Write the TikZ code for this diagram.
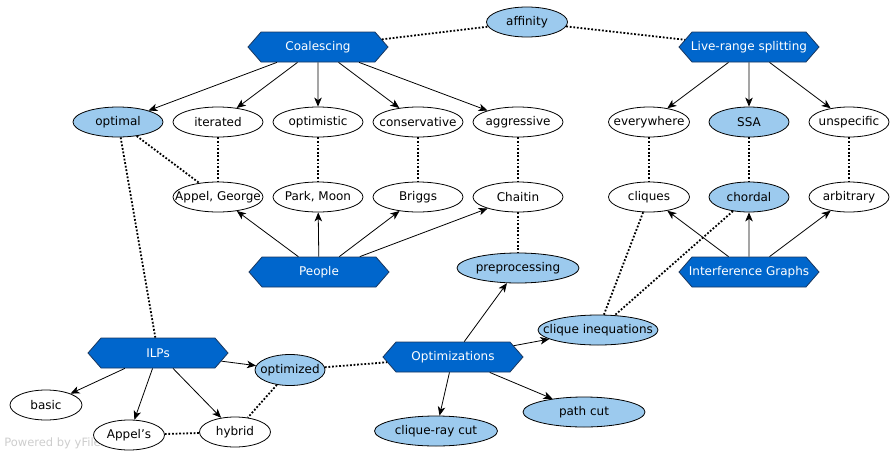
\documentclass[tikz,border=0pt]{standalone}
\usepackage{fontspec}
\setmainfont{DejaVu Sans}
\usetikzlibrary{shapes.geometric, shapes.symbols, arrows.meta}

\definecolor{hexblue}{RGB}{0,102,204}
\definecolor{hexline}{RGB}{25,55,95}
\definecolor{paleblue}{RGB}{156,202,238}
\definecolor{markgray}{RGB}{205,205,205}

\begin{document}
\begin{tikzpicture}[x=1pt, y=-1pt, line width=0.8pt,
    topic/.style={shape=signal, signal to=west and east, signal pointer angle=98,
        draw=hexline, fill=hexblue, text=white, minimum width=140, minimum height=30,
        inner xsep=-40pt, inner ysep=0pt, font=\fontsize{12}{14}\selectfont},
    leaf/.style={ellipse, draw, fill=white, minimum width=90, minimum height=30,
        inner xsep=-70pt, inner ysep=0pt, font=\fontsize{12}{14}\selectfont},
    hot/.style={leaf, fill=paleblue},
    arr/.style={-{Stealth[length=9pt, width=7.5pt, inset=2.5pt]}},
    link/.style={line width=1.8pt, dash pattern=on 1.8pt off 1.8pt}]
    \useasboundingbox (0,0) rectangle (891,450);

    \node[anchor=base west, inner sep=0pt, text=markgray, font=\fontsize{11.5}{13}\selectfont]
        (credit) at (4,446) {Powered by yFiles};

    \node[topic] (coal) at (318,47) {Coalescing};
    \node[topic] (split) at (749,47) {Live-range splitting};
    \node[topic] (people) at (319,272) {People};
    \node[topic] (igraph) at (749,272) {Interference Graphs};
    \node[topic] (ilp) at (158,353) {ILPs};
    \node[topic] (opts) at (453,357) {Optimizations};

    \node[hot, minimum width=81] (affinity) at (527,22) {affinity};

    \node[hot] (optimal) at (118,122) {optimal};
    \node[leaf] (iterated) at (218,122) {iterated};
    \node[leaf] (optimistic) at (318,122) {optimistic};
    \node[leaf] (conservative) at (418,122) {conservative};
    \node[leaf] (aggressive) at (518,122) {aggressive};
    \node[leaf, minimum width=81] (everywhere) at (649,122) {everywhere};
    \node[hot, minimum width=80] (ssa) at (749,122) {SSA};
    \node[leaf, minimum width=80] (unspecific) at (849,122) {unspecific};

    \node[leaf] (appelgeorge) at (218,197) {Appel, George};
    \node[leaf] (parkmoon) at (318,197) {Park, Moon};
    \node[leaf] (briggs) at (418,197) {Briggs};
    \node[leaf] (chaitin) at (518,197) {Chaitin};
    \node[leaf, minimum width=81] (cliques) at (649,197) {cliques};
    \node[hot, minimum width=80] (chordal) at (749,197) {chordal};
    \node[leaf, minimum width=80] (arbitrary) at (849,197) {arbitrary};

    \node[hot, minimum width=122] (preproc) at (518,268) {preprocessing};
    \node[hot, minimum width=120] (cliqueineq) at (598,330) {clique inequations};
    \node[hot, minimum width=122] (pathcut) at (584,412) {path cut};
    \node[hot, minimum width=123] (raycut) at (436,431) {clique-ray cut};
    \node[hot, minimum width=70, minimum height=31] (optimized) at (290,370) {optimized};
    \node[leaf, minimum width=72] (basic) at (46,405) {basic};
    \node[leaf, minimum width=71] (appels) at (129,435) {Appel's};
    \node[leaf, minimum width=71] (hybrid) at (235,432) {hybrid};

    \draw[arr] (coal) -- (optimal);
    \draw[arr] (coal) -- (iterated);
    \draw[arr] (coal) -- (optimistic);
    \draw[arr] (coal) -- (conservative);
    \draw[arr] (coal) -- (aggressive);

    \draw[arr] (split) -- (everywhere);
    \draw[arr] (split) -- (ssa);
    \draw[arr] (split) -- (unspecific);

    \draw[arr] (people) -- (appelgeorge);
    \draw[arr] (people) -- (parkmoon);
    \draw[arr] (people) -- (briggs);
    \draw[arr] (people) -- (chaitin);

    \draw[arr] (igraph) -- (cliques);
    \draw[arr] (igraph) -- (chordal);
    \draw[arr] (igraph) -- (arbitrary);

    \draw[arr] (ilp) -- (basic);
    \draw[arr] (ilp) -- (appels);
    \draw[arr] (ilp) -- (hybrid);
    \draw[arr] (ilp) -- (optimized);

    \draw[arr] (opts) -- (preproc);
    \draw[arr] (opts) -- (cliqueineq);
    \draw[arr] (opts) -- (pathcut);
    \draw[arr] (opts) -- (raycut);

    \draw[link] (coal) -- (affinity) -- (split);
    \draw[link] (optimal) -- (appelgeorge);
    \draw[link] (optimal) -- (ilp);
    \draw[link] (iterated) -- (appelgeorge);
    \draw[link] (optimistic) -- (parkmoon);
    \draw[link] (conservative) -- (briggs);
    \draw[link] (aggressive) -- (chaitin);
    \draw[link] (chaitin) -- (preproc);
    \draw[link] (everywhere) -- (cliques);
    \draw[link] (ssa) -- (chordal);
    \draw[link] (unspecific) -- (arbitrary);
    \draw[link] (cliques) -- (cliqueineq);
    \draw[link] (chordal) -- (cliqueineq);
    \draw[link] (optimized) -- (opts);
    \draw[link] (optimized) -- (hybrid);
    \draw[link] (appels) -- (hybrid);
\end{tikzpicture}
\end{document}
